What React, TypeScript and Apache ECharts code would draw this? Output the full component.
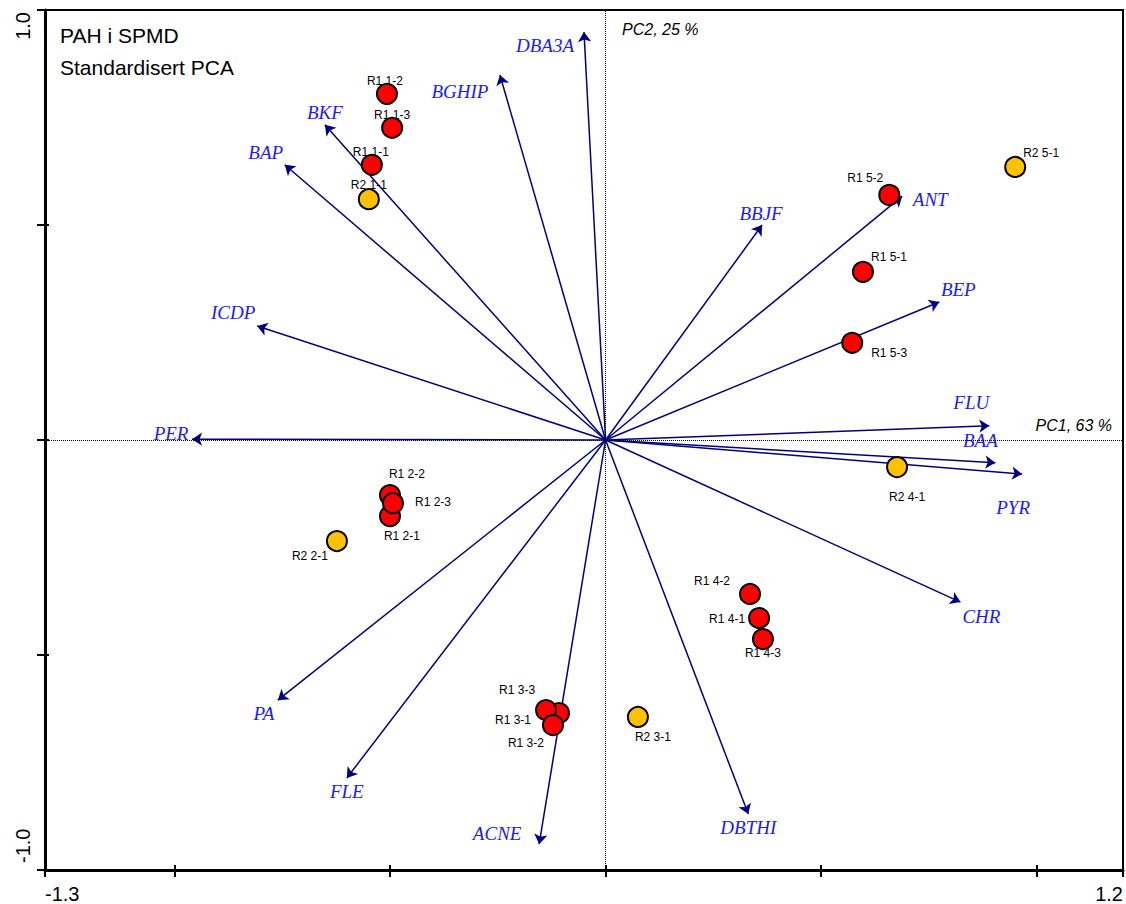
import React, { useEffect, useRef } from "react";
import * as echarts from "echarts";

// ---- Data ----
const variableNames = ["DBA3A", "BGHIP", "BKF", "BAP", "ICDP", "PER", "PA", "FLE", "ACNE", "DBTHI", "CHR", "PYR", "BAA", "FLU", "BEP", "ANT", "BBJF"];
const variablePC1 = [-0.050, -0.245, -0.651, -0.744, -0.808, -0.959, -0.760, -0.600, -0.154, 0.331, 0.823, 0.966, 0.904, 0.890, 0.774, 0.688, 0.363];
const variablePC2 = [0.949, 0.849, 0.733, 0.640, 0.265, 0.002, -0.605, -0.786, -0.940, -0.870, -0.377, -0.079, -0.053, 0.033, 0.321, 0.567, 0.500];

const r1Names = ["R1 1-2", "R1 1-3", "R1 1-1", "R1 5-2", "R1 5-1", "R1 5-3", "R1 2-2", "R1 2-1", "R1 2-3", "R1 4-2", "R1 4-1", "R1 4-3", "R1 3-1", "R1 3-3", "R1 3-2"];
const r1PC1 = [-0.507, -0.495, -0.542, 0.658, 0.597, 0.572, -0.500, -0.500, -0.493, 0.335, 0.356, 0.365, -0.108, -0.138, -0.122];
const r1PC2 = [0.805, 0.726, 0.640, 0.570, 0.391, 0.226, -0.128, -0.177, -0.147, -0.358, -0.414, -0.463, -0.635, -0.628, -0.663];

const r2Names = ["R2 1-1", "R2 5-1", "R2 2-1", "R2 4-1", "R2 3-1"];
const r2PC1 = [-0.549, 0.950, -0.623, 0.676, 0.075];
const r2PC2 = [0.560, 0.635, -0.235, -0.063, -0.644];

const xTickValues = [-1.3, -1.0, -0.5, 0, 0.5, 1.0, 1.2];
const xLabelValues = [-1.3, 1.2];
const yTickValues = [-1.0, -0.5, 0, 0.5, 1.0];
const yLabelValues = [-1.0, 1.0];

const titleLines = ["PAH i SPMD", "Standardisert PCA"];
const pc1Label = "PC1, 63 %";
const pc2Label = "PC2, 25 %";

// ---- Layout (label offsets in pixels) ----
const variableLabelOffset: Record<string, [number, number]> = {
  DBA3A: [-39, 14], BGHIP: [-40, 17], BKF: [0, -12], BAP: [-19, -12], ICDP: [-24, -14],
  PER: [-21, -6], PA: [-14, 13], FLE: [0, 14], ACNE: [-42, -11], DBTHI: [0, 13],
  CHR: [21, 14], PYR: [-9, 34], BAA: [-15, -22], FLU: [-18, -23], BEP: [19, -12],
  ANT: [28, 3], BBJF: [-1, -12],
};
const sampleLabelOffset: Record<string, [number, number]> = {
  "R1 1-2": [-2, -13], "R1 1-3": [0, -13], "R1 1-1": [-1, -13], "R2 1-1": [0, -14],
  "R1 5-2": [-24, -17], "R2 5-1": [26, -14], "R1 5-1": [26, -15], "R1 5-3": [37, 10],
  "R1 2-2": [17, -21], "R1 2-3": [40, -1], "R1 2-1": [12, 20], "R2 2-1": [-27, 15],
  "R2 4-1": [10, 30], "R1 4-2": [-38, -13], "R1 4-1": [-32, 1], "R1 4-3": [0, 14],
  "R1 3-3": [-29, -20], "R1 3-1": [-46, 7], "R1 3-2": [-27, 18], "R2 3-1": [15, 20],
};

const ARROW = "#000080";
const VARTEXT = "#1a1aff";
const SANS = "'Liberation Sans', Arial, sans-serif";
const SERIF = "'Liberation Serif', 'Times New Roman', serif";

function samplePoints(names: string[], xs: number[], ys: number[]) {
  return names.map((n, i) => ({
    name: n,
    value: [xs[i], ys[i]],
    label: { offset: sampleLabelOffset[n] || [0, -14] },
  }));
}

export default function App() {
  const ref = useRef<HTMLDivElement>(null);
  useEffect(() => {
    if (!ref.current) return;
    const chart = echarts.init(ref.current, null, { renderer: "svg" });

    const tickStyle = { color: "#000", width: 2 };
    const option: any = {
      animation: false,
      backgroundColor: "#fff",
      grid: {
        left: 45, right: 3, top: 10, bottom: 34,
        show: true, borderColor: "#000", borderWidth: 2, backgroundColor: "transparent",
        outerBoundsMode: "none",
      },
      xAxis: [
        {
          type: "value", min: -1.3, max: 1.2, position: "bottom",
          axisLine: { show: true, onZero: false, lineStyle: { color: "#000", width: 3 } },
          axisTick: { show: true, customValues: xTickValues, length: 7, lineStyle: tickStyle },
          axisLabel: {
            show: true, customValues: xLabelValues,
            formatter: (v: number) => v.toFixed(1),
            fontSize: 20, fontFamily: SANS, color: "#000", margin: 14,
            alignMinLabel: "left", alignMaxLabel: "right",
          },
          splitLine: { show: false },
        },
        {
          type: "value", min: -1.3, max: 1.2, position: "bottom",
          axisLine: { show: false, onZero: false },
          axisTick: { show: true, inside: true, customValues: xTickValues, length: 5, lineStyle: tickStyle },
          axisLabel: { show: false },
          splitLine: { show: false },
        },
      ],
      yAxis: [
        {
          type: "value", min: -1.0, max: 1.0, position: "left",
          axisLine: { show: true, onZero: false, lineStyle: { color: "#000", width: 3 } },
          axisTick: { show: true, customValues: yTickValues, length: 8, lineStyle: tickStyle },
          axisLabel: {
            show: true, customValues: yLabelValues, rotate: 90,
            formatter: (v: number) => (v < 0 ? `{lo|${v.toFixed(1)}}` : `{hi|${v.toFixed(1)}}`),
            margin: 12, color: "#000", fontSize: 20, fontFamily: SANS,
            alignMinLabel: "left", alignMaxLabel: "right",
            rich: {
              lo: { fontSize: 20, fontFamily: SANS, color: "#000", padding: [0, 0, 0, 7] },
              hi: { fontSize: 20, fontFamily: SANS, color: "#000", padding: [0, 2, 0, 0] },
            },
          },
          splitLine: { show: false },
        },
        {
          type: "value", min: -1.0, max: 1.0, position: "left",
          axisLine: { show: false, onZero: false },
          axisTick: { show: true, inside: true, customValues: yTickValues, length: 4, lineStyle: tickStyle },
          axisLabel: { show: false },
          splitLine: { show: false },
        },
      ],
      graphic: [
        { type: "text", x: 60, y: 35, style: { text: titleLines[0], font: `21px ${SANS}`, fill: "#000", textVerticalAlign: "middle" } },
        { type: "text", x: 60, y: 67, style: { text: titleLines[1], font: `21px ${SANS}`, fill: "#000", textVerticalAlign: "middle" } },
        { type: "text", x: 622, y: 29, style: { text: pc2Label, font: `italic 16px ${SANS}`, fill: "#000", textVerticalAlign: "middle" } },
        { type: "text", x: 1112, y: 425, style: { text: pc1Label, font: `italic 16px ${SANS}`, fill: "#000", textAlign: "right", textVerticalAlign: "middle" } },
      ],
      series: [
        {
          type: "lines",
          name: "variables",
          coordinateSystem: "cartesian2d",
          xAxisIndex: 0, yAxisIndex: 0,
          symbol: ["none", "arrow"],
          symbolSize: 10,
          lineStyle: { color: ARROW, width: 1.5, opacity: 1, curveness: 0 },
          data: variableNames.map((n, i) => ({ name: n, coords: [[0, 0], [variablePC1[i], variablePC2[i]]] })),
          markLine: {
            silent: true,
            symbol: ["none", "none"],
            label: { show: false },
            lineStyle: { type: "dotted", color: "#000", width: 1 },
            data: [{ xAxis: 0 }, { yAxis: 0 }],
          },
          z: 2,
        },
        {
          type: "scatter",
          name: "variable labels",
          xAxisIndex: 0, yAxisIndex: 0,
          symbol: "circle",
          symbolSize: 1,
          itemStyle: { color: "rgba(255,255,255,0)", opacity: 1 },
          label: {
            show: true, position: "inside",
            formatter: (p: any) => p.name,
            fontFamily: SERIF, fontStyle: "italic", fontSize: 19, color: VARTEXT,
            textBorderWidth: 0, textBorderColor: "transparent", opacity: 1,
          },
          data: variableNames.map((n, i) => ({
            name: n, value: [variablePC1[i], variablePC2[i]],
            label: { offset: variableLabelOffset[n] },
          })),
          z: 3,
        },
        {
          type: "scatter",
          name: "R1",
          xAxisIndex: 0, yAxisIndex: 0,
          symbol: "circle",
          symbolSize: 20,
          itemStyle: { color: "#ff0000", borderColor: "#000", borderWidth: 2, opacity: 1 },
          label: {
            show: true, position: "inside",
            formatter: (p: any) => p.name,
            fontFamily: SANS, fontSize: 12, color: "#000", textBorderWidth: 0,
          },
          data: samplePoints(r1Names, r1PC1, r1PC2),
          z: 4,
        },
        {
          type: "scatter",
          name: "R2",
          xAxisIndex: 0, yAxisIndex: 0,
          symbol: "circle",
          symbolSize: 20,
          itemStyle: { color: "#ffc000", borderColor: "#000", borderWidth: 2, opacity: 1 },
          label: {
            show: true, position: "inside",
            formatter: (p: any) => p.name,
            fontFamily: SANS, fontSize: 12, color: "#000", textBorderWidth: 0,
          },
          data: samplePoints(r2Names, r2PC1, r2PC2),
          z: 4,
        },
      ],
    };
    chart.setOption(option);
    return () => chart.dispose();
  }, []);

  return (
    <div
      ref={ref}
      style={{ position: "fixed", left: 0, top: 0, width: 1126, height: 904, background: "#fff" }}
    />
  );
}
